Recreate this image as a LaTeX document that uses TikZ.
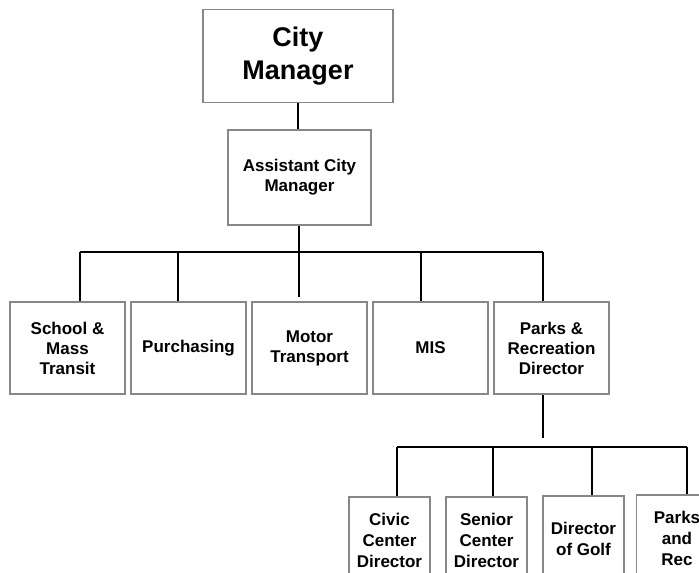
\documentclass[tikz,border=0pt]{standalone}
\usepackage{fontspec}
\setmainfont{Liberation Sans}
\begin{document}
\begin{tikzpicture}[x=1pt,y=-1pt,
  box/.style={draw=black!47, line width=1.8pt, fill=white, inner sep=0pt,
    align=center, font=\bfseries\fontsize{17}{20}\selectfont},
  link/.style={draw=black, line width=1.8pt}]
\clip (0,0) rectangle (699,573);
\fill[white] (0,0) rectangle (699,573);

% top of the chart
\node[box, minimum width=190pt, minimum height=93pt,
  font=\bfseries\fontsize{27}{33}\selectfont] (cm) at (298,56) {City\\Manager};
\node[box, minimum width=143pt, minimum height=95pt] (acm) at (299.5,177.5) {Assistant City\\Manager};

% department heads
\node[box, minimum width=115pt, minimum height=92pt] (sch) at (67.5,348) {School \&\\Mass\\Transit};
\node[box, minimum width=115pt, minimum height=92pt] (pur) at (188.5,348) {Purchasing};
\node[box, minimum width=115pt, minimum height=92pt] (mot) at (309.5,348) {Motor\\Transport};
\node[box, minimum width=115pt, minimum height=92pt] (mis) at (430.5,348) {MIS};
\node[box, minimum width=115pt, minimum height=92pt] (par) at (551.5,348) {Parks \&\\Recreation\\Director};

% parks and recreation staff
\tikzset{staff/.style={box, minimum width=81pt, minimum height=86pt,
  font=\bfseries\fontsize{17}{21}\selectfont}}
\node[staff] (civ) at (389.5,540) {Civic\\Center\\Director};
\node[staff] (sen) at (486.5,540) {Senior\\Center\\Director};
\node[staff] (gol) at (583.5,539) {Director\\of Golf};
\node[staff] (rec) at (677,538) {Parks\\and\\Rec};

% first bar
\coordinate (b1) at (80,252);
\coordinate (b2) at (178,252);
\coordinate (b3) at (299,252);
\coordinate (b4) at (421,252);
\coordinate (b5) at (543,252);
\draw[link] (cm.south) -- (cm.south |- acm.north);
\draw[link] (b3 |- acm.south) -- (b3);
\draw[link] (b1) -- (b5);
\draw[link] (b1) -- (b1 |- sch.north);
\draw[link] (b2) -- (b2 |- pur.north);
\draw[link] (b3) -- ([yshift=4pt]b3 |- mot.north);
\draw[link] (b4) -- (b4 |- mis.north);
\draw[link] (b5) -- (b5 |- par.north);

% second bar
\coordinate (c0) at (543,438);
\coordinate (c1) at (397,447);
\coordinate (c2) at (493,447);
\coordinate (c3) at (592,447);
\coordinate (c4) at (687,447);
\draw[link] (c0 |- par.south) -- (c0);
\draw[link] (c1) -- (c4);
\draw[link] (c1) -- (c1 |- civ.north);
\draw[link] (c2) -- (c2 |- sen.north);
\draw[link] (c3) -- (c3 |- gol.north);
\draw[link] (c4) -- (c4 |- rec.north);
\end{tikzpicture}
\end{document}
